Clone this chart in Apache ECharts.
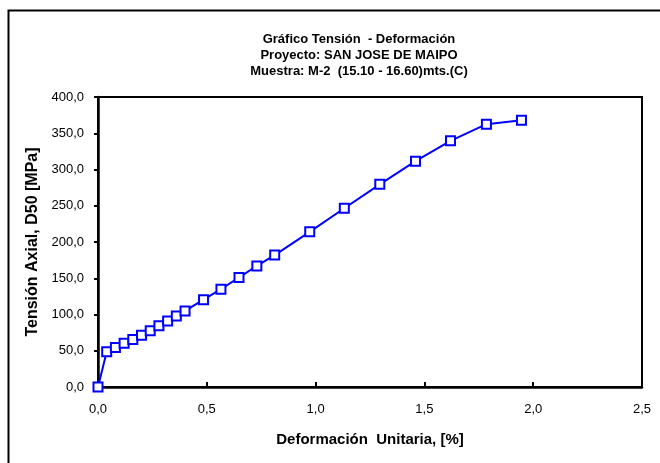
<!DOCTYPE html>
<html>
<head>
<meta charset="utf-8">
<script src="https://cdn.jsdelivr.net/npm/echarts@6/dist/echarts.min.js"></script>
<style>
  html, body { margin: 0; padding: 0; background: #fff; }
  #chart { width: 660px; height: 463px; }
</style>
</head>
<body>
<div id="chart"></div>
<script>
// Data
const deformacion = [0, 0.04, 0.08, 0.12, 0.16, 0.20, 0.24, 0.28, 0.32, 0.36, 0.40, 0.485, 0.565, 0.648, 0.73, 0.812, 0.973, 1.132, 1.295, 1.459, 1.62, 1.785, 1.946];
const tension = [0, 48.5, 54.5, 60.5, 65.5, 71.5, 77.5, 84.5, 91, 98, 105, 120.5, 135, 151, 167, 182, 214, 246.5, 279.5, 311.5, 339.5, 362.5, 368];
const titleLines = ['Gráfico Tensión  - Deformación', 'Proyecto: SAN JOSE DE MAIPO', 'Muestra: M-2  (15.10 - 16.60)mts.(C)'];
const xAxisName = 'Deformación  Unitaria, [%]';
const yAxisName = 'Tensión Axial, D50 [MPa]';

const points = deformacion.map((x, i) => [x, tension[i]]);
const fmt = v => v.toFixed(1).replace('.', ',');
const FONT = 'Liberation Sans, Arial, sans-serif';

const chart = echarts.init(document.getElementById('chart'), null, { renderer: 'canvas' });
chart.setOption({
  animation: false,
  backgroundColor: '#fff',
  title: {
    text: titleLines.join('\n'),
    left: 354,
    top: 26,
    textAlign: 'center',
    textStyle: { fontFamily: FONT, fontSize: 13, fontWeight: 'bold', color: '#000', lineHeight: 16 }
  },
  graphic: [{
    type: 'rect',
    shape: { x: 8.5, y: 10.5, width: 700, height: 500 },
    style: { fill: 'none', stroke: '#000', lineWidth: 2 },
    silent: true
  }],
  grid: {
    left: 98, top: 97, right: 18, bottom: 76,
    show: true, borderColor: '#000', borderWidth: 2, backgroundColor: 'transparent'
  },
  xAxis: {
    type: 'value', min: 0, max: 2.5, interval: 0.5,
    name: xAxisName, nameLocation: 'middle', nameGap: 45,
    nameTextStyle: { fontFamily: FONT, fontSize: 15, fontWeight: 'bold', color: '#000' },
    axisLine: { lineStyle: { color: '#000', width: 2.5 } },
    axisTick: { inside: true, length: 5, lineStyle: { color: '#000', width: 2 } },
    axisLabel: { formatter: fmt, fontFamily: FONT, fontSize: 13, color: '#000', margin: 16 },
    splitLine: { show: false }
  },
  yAxis: {
    type: 'value', min: 0, max: 400, interval: 50,
    name: yAxisName, nameLocation: 'middle', nameGap: 51, nameRotate: 90,
    nameTextStyle: { fontFamily: FONT, fontSize: 16, fontWeight: 'bold', color: '#000' },
    axisLine: { lineStyle: { color: '#000', width: 2.5 } },
    axisTick: { inside: false, length: 4, lineStyle: { color: '#000', width: 2 } },
    axisLabel: { formatter: fmt, fontFamily: FONT, fontSize: 13, color: '#000', margin: 14 },
    splitLine: { show: false }
  },
  series: [{
    type: 'line',
    data: points,
    symbol: 'rect',
    symbolSize: 9,
    showAllSymbol: true,
    lineStyle: { color: '#0000FF', width: 2 },
    itemStyle: { color: '#fff', borderColor: '#0000FF', borderWidth: 2 },
    clip: false
  }]
});
</script>
</body>
</html>
